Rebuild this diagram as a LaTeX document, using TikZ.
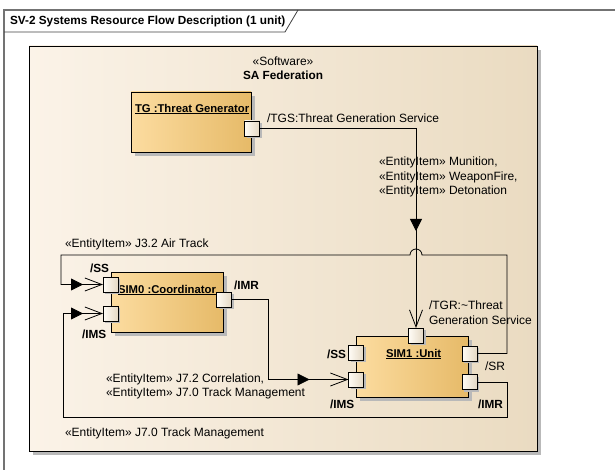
\documentclass[tikz,border=0pt]{standalone}
\usepackage{fontspec}
\setmainfont{Liberation Sans}
\usetikzlibrary{arrows.meta,calc,decorations.markings,shadows}

\definecolor{fedL}{RGB}{251,243,232}
\definecolor{fedR}{RGB}{234,219,193}
\definecolor{partL}{RGB}{252,220,160}
\definecolor{partR}{RGB}{230,186,104}
\definecolor{portL}{RGB}{255,252,246}
\definecolor{portR}{RGB}{228,216,196}
\definecolor{shadowgray}{RGB}{185,185,185}

\begin{document}
\begin{tikzpicture}[x=1pt,y=-1pt,
  every node/.style={font=\fontsize{12}{14}\selectfont, inner sep=0pt, outer sep=0pt},
  lbl/.style={anchor=west},
  boldlbl/.style={anchor=west, font=\fontsize{11.8}{14}\selectfont\bfseries},
  parttitle/.style={anchor=west, font=\fontsize{11.3}{14}\selectfont\bfseries},
  boxshadow/.style={general shadow={fill=shadowgray, shadow xshift=4pt, shadow yshift=-4pt}},
  container/.style={draw=black, line width=0.9pt, left color=fedL, right color=fedR,
    anchor=north west, boxshadow},
  part/.style={draw=black, line width=0.9pt, left color=partL, right color=partR,
    anchor=north west, boxshadow},
  port/.style={draw=black, line width=0.9pt, left color=portL, right color=portR,
    minimum size=15pt, general shadow={fill=shadowgray, shadow xshift=2pt, shadow yshift=-2pt}},
  flow/.style={draw=black, line width=0.8pt,
    -{Straight Barb[length=17pt,width=13pt]}},
  midtri/.style={postaction={decorate}, decoration={markings,
    mark=at position #1 with {\arrow{Triangle[length=12pt,width=12pt]}}}}
]
\useasboundingbox (0,0) rectangle (615,470);

% diagram frame and its name tab
\draw[black!55, line width=1.2pt] (4,470) -- (4,10) -- (615,10);
\draw[black!75, line width=0.8pt] (4,32) -- (285,32) -- (298,10);
\node[boldlbl] (frametitle) at (10,21) {SV-2 Systems Resource Flow Description (1 unit)};

% enclosing software federation
\node[container, minimum width=508pt, minimum height=405pt] (fed) at (29,46) {};
\node (fedstereo) at (283,61) {«Software»};
\node[font=\fontsize{11.8}{14}\selectfont\bfseries] (fedname) at (283,75) {SA Federation};

% parts
\node[part, minimum width=120pt, minimum height=60pt] (tg) at (131,92) {};
\node[parttitle] (tgtitle) at (135,109) {\underline{TG :Threat Generator}};

\node[part, minimum width=112pt, minimum height=60pt] (sim0) at (111,272) {};
\node[parttitle] (sim0title) at (118,290) {\underline{SIM0 :Coordinator}};

\node[part, minimum width=112pt, minimum height=61pt] (sim1) at (356,336) {};
\node[parttitle] (sim1title) at (386,354) {\underline{SIM1 :Unit}};

% ports
\node[port] (tgs)  at (252,128.5) {};
\node[port] (ss0)  at (110.5,284.5) {};
\node[port] (ims0) at (110.5,313.5) {};
\node[port] (imr0) at (224,299.5) {};
\node[port] (tgr)  at (416,335.5) {};
\node[port] (ss1)  at (356,352.5) {};
\node[port] (ims1) at (356,379.5) {};
\node[port] (sr)   at (469.5,353.5) {};
\node[port] (imr1) at (469.5,382) {};

% port labels
\node[lbl] (tgslbl) at (267,118) {/TGS:Threat Generation Service};
\node[boldlbl] (ss0lbl) at (90,268) {/SS};
\node[boldlbl] (ims0lbl) at (82,334) {/IMS};
\node[boldlbl] (imr0lbl) at (234,285) {/IMR};
\node[lbl] (tgrlbl1) at (429,305) {/TGR:\textasciitilde Threat};
\node[lbl] (tgrlbl2) at (429,320) {Generation Service};
\node[boldlbl] (ss1lbl) at (327,354) {/SS};
\node[lbl] (srlbl) at (485,366) {/SR};
\node[boldlbl] (ims1lbl) at (330,404) {/IMS};
\node[boldlbl] (imr1lbl) at (478,404) {/IMR};

% bend points
\coordinate (bendR) at (507,255);
\coordinate (bendL) at (61,255);
\coordinate (lowR) at (507,417);
\coordinate (lowL) at (63,417);
\coordinate (midX) at (268,0);

% threat generation service flow
\draw[flow, midtri=-97pt] (tgs.east) -| (tgr.north);
\node[lbl] (itm1) at (379,162) {«EntityItem» Munition,};
\node[lbl] (itm2) at (379,177) {«EntityItem» WeaponFire,};
\node[lbl] (itm3) at (379,191) {«EntityItem» Detonation};

% air track flow, hopping over the vertical connector
\draw[flow, midtri=-20pt] (sr.east) -| (bendR)
  -- ($(tgr.north |- bendR)+(6,0)$) arc[start angle=0, end angle=180, radius=6pt]
  -- (bendL) |- (ss0.west);
\node[lbl] (airlbl) at (65,244) {«EntityItem» J3.2 Air Track};

% correlation / track management flow
\draw[flow, midtri=-39pt] (imr0.east) -| (midX |- ims1.west) -- (ims1.west);
\node[lbl] (corr1) at (106,379) {«EntityItem» J7.2 Correlation,};
\node[lbl] (corr2) at (106,393) {«EntityItem» J7.0 Track Management};

% track management return flow
\draw[flow, midtri=-20pt] (imr1.east) -| (lowR) -- (lowL) |- (ims0.west);
\node[lbl] (tmlbl) at (65,433) {«EntityItem» J7.0 Track Management};
\end{tikzpicture}
\end{document}
